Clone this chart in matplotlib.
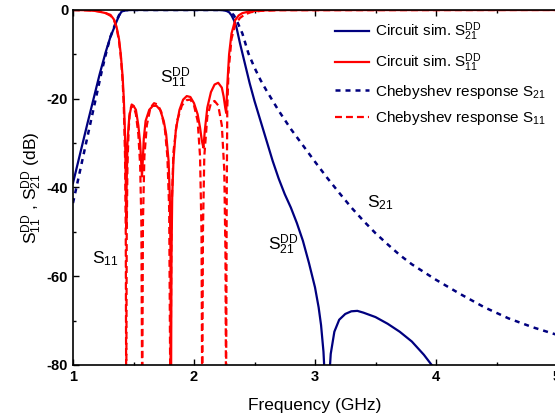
import matplotlib
matplotlib.use("Agg")
import matplotlib.pyplot as plt

plt.rcParams["font.family"] = ["Liberation Sans", "DejaVu Sans"]
plt.rcParams["mathtext.fontset"] = "custom"
plt.rcParams["mathtext.rm"] = "Liberation Sans"
plt.rcParams["mathtext.it"] = "Liberation Sans:italic"
plt.rcParams["mathtext.bf"] = "Liberation Sans:bold"
plt.rcParams["axes.unicode_minus"] = False
plt.rcParams["lines.scale_dashes"] = False

# Circuit simulation, differential-mode transmission S21^DD (GHz, dB)
sim_s21_f = [1.00, 1.04, 1.08, 1.12, 1.17, 1.22, 1.27, 1.31, 1.34, 1.36, 1.38, 1.40,
             1.43, 1.50, 2.20, 2.26, 2.29, 2.31, 2.33, 2.35, 2.38, 2.42, 2.46, 2.50,
             2.55, 2.60, 2.65, 2.70, 2.75, 2.80, 2.85, 2.90, 2.95, 3.00, 3.03, 3.05,
             3.07, 3.085, 3.10, 3.115, 3.13, 3.16, 3.20, 3.25, 3.30, 3.35, 3.40, 3.50,
             3.60, 3.70, 3.80, 3.90, 3.97, 4.00]
sim_s21_db = [-39.0, -34.5, -30.0, -25.5, -20.0, -14.5, -9.5, -6.0, -4.0, -2.6, -1.3, -0.4,
              -0.05, 0.0, 0.0, -0.1, -0.5, -1.2, -2.3, -3.8, -7.5, -12.0, -16.5, -20.5,
              -25.0, -29.5, -34.0, -38.0, -41.5, -44.5, -48.0, -52.0, -57.0, -62.5, -67.0, -71.0,
              -77.0, -85.0, -95.0, -84.0, -77.5, -72.5, -69.8, -68.5, -67.9, -67.8, -68.2, -69.2,
              -70.7, -72.5, -74.7, -77.7, -80.2, -81.5]

# Circuit simulation, differential-mode reflection S11^DD
sim_s11_f = [1.00, 1.10, 1.18, 1.22, 1.27, 1.31, 1.34, 1.36, 1.38, 1.395, 1.41, 1.42,
             1.43, 1.437, 1.440, 1.443, 1.45, 1.465, 1.48, 1.50, 1.52, 1.54, 1.555, 1.565,
             1.570, 1.575, 1.585, 1.60, 1.63, 1.66, 1.69, 1.72, 1.75, 1.77, 1.79, 1.80,
             1.806, 1.810, 1.814, 1.82, 1.83, 1.85, 1.88, 1.91, 1.94, 1.97, 2.00, 2.03,
             2.05, 2.065, 2.078, 2.09, 2.11, 2.14, 2.17, 2.20, 2.23, 2.245, 2.258, 2.266,
             2.275, 2.29, 2.31, 2.34, 2.37, 2.40, 2.46, 2.55, 2.70, 5.00]
sim_s11_db = [0.0, -0.05, -0.2, -0.4, -0.7, -1.1, -2.2, -3.8, -6.5, -10.0, -15.0, -20.0,
              -28.0, -40.0, -49.0, -40.0, -30.0, -24.0, -22.0, -21.6, -22.5, -26.0, -30.0, -35.0,
              -37.5, -35.0, -29.0, -25.0, -22.5, -21.6, -21.6, -22.5, -25.0, -28.0, -34.0, -42.0,
              -55.0, -90.0, -55.0, -42.0, -34.0, -27.0, -22.5, -20.2, -19.4, -19.6, -21.0, -23.5,
              -26.5, -29.5, -31.0, -27.0, -22.0, -18.5, -16.8, -16.4, -17.5, -19.5, -22.0, -23.2,
              -17.0, -10.0, -5.3, -2.3, -1.2, -0.7, -0.3, -0.1, -0.02, 0.0]

# Ideal Chebyshev response S21
cheb_s21_f = [1.00, 1.04, 1.08, 1.12, 1.16, 1.20, 1.24, 1.28, 1.31, 1.34, 1.36, 1.38,
              1.40, 1.43, 1.50, 2.25, 2.30, 2.33, 2.36, 2.40, 2.45, 2.50, 2.55, 2.60,
              2.70, 2.80, 2.90, 3.00, 3.10, 3.20, 3.30, 3.40, 3.50, 3.60, 3.70, 3.80,
              4.00, 4.20, 4.40, 4.60, 4.80, 5.00]
cheb_s21_db = [-43.5, -38.5, -33.5, -28.5, -23.5, -18.5, -13.5, -9.0, -6.0, -3.8, -2.4, -1.2,
               -0.4, -0.05, 0.0, 0.0, -0.4, -1.2, -2.8, -5.3, -9.8, -13.0, -15.8, -18.2,
               -22.7, -26.8, -30.5, -34.2, -37.8, -41.2, -44.5, -47.5, -50.3, -52.8, -55.2, -57.3,
               -60.8, -64.0, -67.0, -69.5, -71.5, -73.2]

# Ideal Chebyshev response S11
cheb_s11_f = [1.00, 1.15, 1.22, 1.27, 1.31, 1.34, 1.36, 1.38, 1.395, 1.41, 1.42, 1.43,
              1.436, 1.440, 1.444, 1.45, 1.46, 1.47, 1.485, 1.50, 1.52, 1.54, 1.555, 1.565,
              1.572, 1.578, 1.59, 1.61, 1.64, 1.67, 1.70, 1.73, 1.76, 1.78, 1.795, 1.805,
              1.815, 1.83, 1.86, 1.90, 1.94, 1.97, 2.00, 2.03, 2.05, 2.062, 2.068, 2.074,
              2.085, 2.11, 2.14, 2.17, 2.20, 2.23, 2.25, 2.26, 2.265, 2.27, 2.275, 2.285,
              2.31, 2.34, 2.38, 2.42, 2.47, 2.55, 2.70, 5.00]
cheb_s11_db = [0.0, -0.1, -0.3, -0.7, -1.3, -2.4, -4.0, -7.0, -10.5, -16.0, -22.0, -33.0,
               -50.0, -90.0, -50.0, -35.0, -27.0, -23.0, -21.3, -21.6, -23.5, -28.0, -35.0, -48.0,
               -90.0, -48.0, -33.0, -26.0, -22.0, -21.0, -21.3, -23.0, -27.0, -33.0, -45.0, -90.0,
               -45.0, -32.0, -25.0, -21.5, -20.3, -20.2, -21.5, -25.0, -33.0, -50.0, -90.0, -50.0,
               -33.0, -24.0, -21.0, -20.5, -21.5, -26.0, -36.0, -55.0, -90.0, -45.0, -22.0, -14.0,
               -6.5, -3.3, -1.8, -1.0, -0.5, -0.2, -0.05, 0.0]

x_ticks = [1, 2, 3, 4, 5]
y_ticks = [0, -20, -40, -60, -80]

navy = "#00007f"
red = "#ff0000"

fig = plt.figure(figsize=(5.55, 4.18), dpi=100)
ax = fig.add_axes([73 / 555, 1 - 365 / 418, 484 / 555, 355 / 418])

ax.plot(sim_s21_f, sim_s21_db, color=navy, lw=1.6,
        label=r"Circuit sim. S$_{21}^{\mathrm{DD}}$")
ax.plot(sim_s11_f, sim_s11_db, color=red, lw=1.6,
        label=r"Circuit sim. S$_{11}^{\mathrm{DD}}$")
ax.plot(cheb_s21_f, cheb_s21_db, color=navy, lw=1.8, ls=(0, (3.6, 3.6)),
        label=r"Chebyshev response S$_{21}$")
ax.plot(cheb_s11_f, cheb_s11_db, color=red, lw=1.6, ls=(0, (5.0, 2.9)),
        label=r"Chebyshev response S$_{11}$")

ax.set_xlim(1, 5)
ax.set_ylim(-80, 0)
ax.set_xticks(x_ticks)
ax.set_yticks(y_ticks)
ax.set_xticks([1.5, 2.5, 3.5, 4.5], minor=True)
ax.set_yticks([-10, -30, -50, -70], minor=True)
ax.tick_params(which="both", direction="in", top=True, right=False,
               labelsize=10.5, width=1.0)
ax.tick_params(which="major", length=4.5)
ax.tick_params(which="minor", length=2.5)
for lab in ax.get_xticklabels() + ax.get_yticklabels():
    lab.set_fontweight("bold")

for s in ax.spines.values():
    s.set_linewidth(1.2)

ax.set_xlabel("Frequency (GHz)", fontsize=12.5, labelpad=10.5)
ax.set_ylabel(r"S$_{11}^{\mathrm{DD}}$ , S$_{21}^{\mathrm{DD}}$ (dB)", fontsize=12.5, labelpad=2)

ax.text(1.72, -15.3, r"S$_{11}^{\mathrm{DD}}$", fontsize=12.5, ha="left", va="center")
ax.text(1.16, -56.0, r"S$_{11}$", fontsize=12.5, ha="left", va="center")
ax.text(2.61, -53.0, r"S$_{21}^{\mathrm{DD}}$", fontsize=12.5, ha="left", va="center")
ax.text(3.43, -43.5, r"S$_{21}$", fontsize=12.5, ha="left", va="center")

ax.legend(loc="upper right", bbox_to_anchor=(1.0, 1.0), frameon=False,
          fontsize=11, handlelength=2.2, handletextpad=0.4, labelspacing=0.55,
          borderaxespad=0.3)

fig.savefig("out.png", dpi=100)
